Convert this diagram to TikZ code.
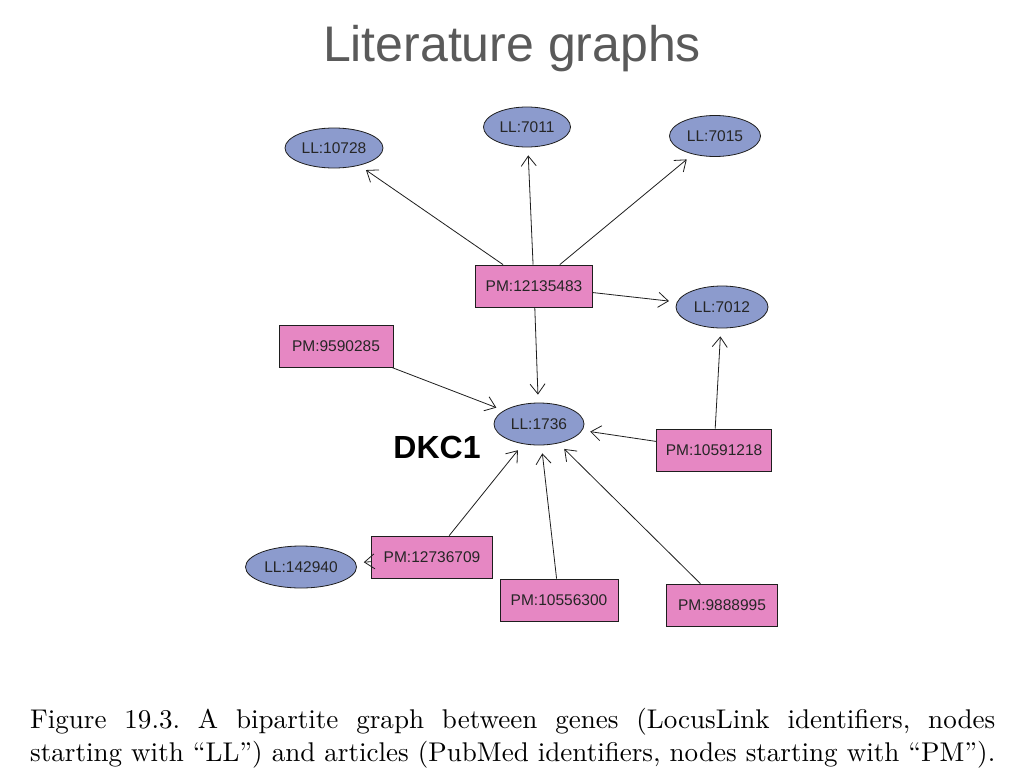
\documentclass[tikz,border=0pt]{standalone}
\usepackage{fontspec}
\newfontfamily\arialfont{Liberation Sans}
\usetikzlibrary{shapes.geometric,arrows.meta}
\definecolor{llblue}{RGB}{140,155,205}
\definecolor{pmpink}{RGB}{230,135,195}
\definecolor{titlegray}{RGB}{90,90,90}
\definecolor{edgedark}{RGB}{30,30,30}
\newsavebox{\capboxtwo}
\begin{document}
\begin{tikzpicture}[x=1pt,y=-1pt,
  llnode/.style={ellipse,draw=edgedark,line width=0.8pt,fill=llblue,inner sep=0pt,
    font=\arialfont\fontsize{15.5}{16}\selectfont,text=black!85},
  pmnode/.style={rectangle,draw=edgedark,line width=0.8pt,fill=pmpink,inner sep=0pt,
    minimum height=42pt,font=\arialfont\fontsize{15.5}{16}\selectfont,text=black!85},
  link/.style={draw=edgedark,line width=0.8pt,-{Straight Barb[length=10pt,width=15pt]},shorten >=8pt}
]
\useasboundingbox[fill=white] (0,0) rectangle (1024,768);

\node[anchor=base,text=titlegray,font=\arialfont\fontsize{50}{55}\selectfont] (title) at (512,61) {Literature graphs};

% LL nodes
\node[llnode,minimum width=98pt,minimum height=40pt] (ll10728) at (334,148) {LL:10728};
\node[llnode,minimum width=87pt,minimum height=40pt] (ll7011) at (527,127) {LL:7011};
\node[llnode,minimum width=91pt,minimum height=41pt] (ll7015) at (715,136) {LL:7015};
\node[llnode,minimum width=92pt,minimum height=42pt] (ll7012) at (722,307) {LL:7012};
\node[llnode,minimum width=90pt,minimum height=42pt] (ll1736) at (539,424) {LL:1736};
\node[llnode,minimum width=111pt,minimum height=42pt] (ll142940) at (301,567) {LL:142940};

% PM nodes
\node[pmnode,minimum width=117pt] (pm12135483) at (534,286) {PM:12135483};
\node[pmnode,minimum width=114pt] (pm9590285) at (336,346) {PM:9590285};
\node[pmnode,minimum width=115pt] (pm10591218) at (714,450) {PM:10591218};
\node[pmnode,minimum width=121pt] (pm12736709) at (432,557) {PM:12736709};
\node[pmnode,minimum width=118pt] (pm10556300) at (559,600) {PM:10556300};
\node[pmnode,minimum width=111pt] (pm9888995) at (722,605) {PM:9888995};

\node[font=\arialfont\bfseries\fontsize{32}{34}\selectfont,anchor=base] (dkc1) at (437,458) {DKC1};

% edges
\draw[link] (pm12135483) -- (ll10728);
\draw[link] (pm12135483) -- (ll7011);
\draw[link] (pm12135483) -- (ll7015);
\draw[link] (pm12135483) -- (ll7012);
\draw[link] (pm12135483) -- (ll1736);
\draw[link] (pm9590285) -- (ll1736);
\draw[link] (pm10591218) -- (ll7012);
\draw[link] (pm10591218) -- (ll1736);
\draw[link] (pm12736709) -- (ll1736);
\draw[link] (pm12736709) -- (ll142940);
\draw[link] (pm10556300) -- (ll1736);
\draw[link] (pm9888995) -- (ll1736);

% caption
\node[anchor=north west,inner sep=0pt] (caption) at (30,706)
  {\resizebox{965pt}{!}{\fontsize{10}{12}\selectfont\frenchspacing%
   \sbox{\capboxtwo}{starting with “LL”) and articles (PubMed identifiers, nodes starting with “PM”).}%
   \begin{tabular}{@{}l@{}}%
   \hbox to \wd\capboxtwo{Figure 19.3. A bipartite graph between genes (LocusLink identifiers, nodes}\\
   \usebox{\capboxtwo}%
   \end{tabular}}};
\end{tikzpicture}
\end{document}
